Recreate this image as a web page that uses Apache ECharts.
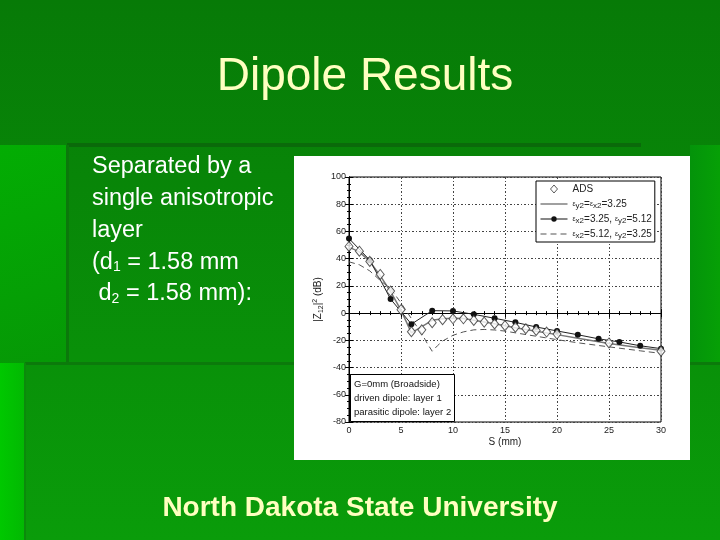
<!DOCTYPE html>
<html><head><meta charset="utf-8">
<script src="https://cdn.jsdelivr.net/npm/echarts@6/dist/echarts.min.js"></script>
<style>html,body{margin:0;padding:0;background:#0a8a0a;}#c{width:720px;height:540px;}</style>
</head><body><div id="c"></div>
<script>
// ---- data ----
const xTicks = [0, 5, 10, 15, 20, 25, 30];
const yTicks = [-80, -60, -40, -20, 0, 20, 40, 60, 80, 100];
const seriesNames = ['ADS', 'eq', 'dot', 'dash'];
const adsS = [0,1,2,3,4,5,6,7,8,9,10,11,12,13,14,15,16,17,18,19,20,25,30];
const adsV = [49,45.5,38,28.4,16.2,2.5,-13.7,-12.3,-7,-4.8,-4.2,-4.2,-5.4,-6.6,-8,-9.2,-10.4,-11.5,-12.7,-13.9,-15.4,-21.9,-28];
const eqS = [0,1,2,3,4,5,6,7,8,9,10,11,12,14,16,18,20,22,25,28,30];
const eqV = [48.5,45,38,27.5,15.8,2.2,-14.5,-10,-5.3,-4.2,-3.8,-4,-5.2,-7.8,-10.8,-13.4,-15.8,-18.5,-22.4,-25.5,-27.3];
const dotS = [0,2,4,6,8,10,12,14,16,18,20,22,24,26,28,30];
const dotV = [54.8,38.9,10.3,-8.1,1.8,1.6,-0.9,-3.8,-6.8,-10.2,-13.1,-15.9,-18.9,-21.2,-24,-26.1];
const dashS = [0,1,2,3,4,5,6,7,7.5,8,8.5,9,10,11,12,13,14,15,16,18,20,22,25,28,30];
const dashV = [37.7,35.5,31,24,18,7.5,-4,-15,-22,-28,-24,-20.5,-16.3,-13.8,-12.3,-12,-12.4,-13.2,-14.5,-17,-19.5,-21.8,-24.8,-27.7,-29.6];
const legendText = {
  ADS: 'ADS',
  eq: '{e|ε}{s|y2}={e|ε}{s|x2}=3.25',
  dot: '{e|ε}{s|x2}=3.25, {e|ε}{s|y2}=5.12',
  dash: '{e|ε}{s|x2}=5.12, {e|ε}{s|y2}=3.25'
};
const noteText = 'G=0mm (Broadside)\ndriven dipole: layer 1\nparasitic dipole: layer 2';
const slideTitle = 'Dipole Results';
const bodyLines = ['Separated by a', 'single anisotropic', 'layer', '(d{sub|1} = 1.58 mm', ' d{sub|2} = 1.58 mm):'];
const footer = 'North Dakota State University';

const pair = (xs, ys) => xs.map((x, i) => [x, ys[i]]);
const font = 'Liberation Sans, Arial, sans-serif';
const gridDash = [2, 2, 1, 2];

// legend icons (box 27 x 9)
const BOX = 'M0,0M27,0M27,9M0,9';
const icons = {
  ADS: 'path://' + BOX + 'M13.5,0.5L17,4.5L13.5,8.5L10,4.5Z',
  eq: 'path://' + BOX + 'M0,3.8L27,3.8L27,5.2L0,5.2Z',
  dot: 'path://' + BOX + 'M0,4L27,4L27,5L0,5ZM10.8,4.5A2.7,2.7 0 1,1 16.2,4.5A2.7,2.7 0 1,1 10.8,4.5Z',
  dash: 'path://' + BOX + 'M0,4L6,4L6,5L0,5ZM10,4L16,4L16,5L10,5ZM20,4L26,4L26,5L20,5Z'
};
const iconStyle = {
  ADS: {color: '#fff', borderColor: '#333', borderWidth: 1},
  eq: {color: '#777', borderWidth: 0},
  dot: {color: '#111', borderWidth: 0},
  dash: {color: '#555', borderWidth: 0}
};

const chart = echarts.init(document.getElementById('c'), null, {renderer: 'canvas'});

const bg = [
  {type:'rect', z:-100, shape:{x:0,y:0,width:720,height:540}, style:{fill:new echarts.graphic.LinearGradient(0,0,0,1,[{offset:0,color:'#077a07'},{offset:1,color:'#0a9c0a'}])}},
  {type:'rect', z:-99, shape:{x:0,y:145,width:67,height:218}, style:{fill:new echarts.graphic.LinearGradient(0,0,1,1,[{offset:0,color:'#03ad03'},{offset:1,color:'#069806'}])}},
  {type:'rect', z:-99, shape:{x:0,y:363,width:25,height:177}, style:{fill:new echarts.graphic.LinearGradient(0,0,1,0,[{offset:0,color:'#00c800'},{offset:1,color:'#02b802'}])}},
  {type:'rect', z:-99, shape:{x:690,y:145,width:30,height:218}, style:{fill:new echarts.graphic.LinearGradient(0,0,1,0,[{offset:0,color:'#04930a'},{offset:1,color:'#06a006'}])}},
  {type:'rect', z:-98, shape:{x:67,y:143,width:574,height:4}, style:{fill:'#0a6a0a'}},
  {type:'rect', z:-98, shape:{x:66,y:145,width:3,height:218}, style:{fill:'#0b780b'}},
  {type:'rect', z:-98, shape:{x:25,y:362,width:695,height:3}, style:{fill:'#0b7a0b'}},
  {type:'rect', z:-98, shape:{x:24,y:363,width:2,height:177}, style:{fill:'#0b8a0b'}},
  {type:'rect', z:-97, shape:{x:294,y:156,width:396,height:304}, style:{fill:'#ffffff'}}
];
const texts = [
  {type:'text', z:10, x:365, y:77, style:{text:slideTitle, fill:'#ffffc0', font:'46px '+font, textAlign:'center', textVerticalAlign:'middle'}},
  {type:'text', z:10, x:360, y:508, style:{text:footer, fill:'#ffffc0', font:'bold 28px '+font, textAlign:'center', textVerticalAlign:'middle'}}
];
bodyLines.forEach((t, i) => {
  texts.push({type:'text', z:10, x:92, y:167 + i*31.7, style:{text:t, fill:'#ffffff', fontSize:23.5, fontFamily:font, textVerticalAlign:'middle',
    rich:{sub:{fontSize:14, fill:'#ffffff', fontFamily:font, verticalAlign:'bottom', padding:[8,0,0,0]}}}});
});

const axisLbl = {color:'#222', fontSize:9, fontFamily:font};
const option = {
  animation: false,
  backgroundColor: 'transparent',
  graphic: bg.concat(texts),
  title: [{
    text: noteText, left: 350, top: 374,
    backgroundColor: '#fff', borderColor: '#000', borderWidth: 1, padding: [3, 4, 3, 4],
    textStyle: {fontSize: 9.5, fontWeight: 'normal', color: '#111', fontFamily: font, lineHeight: 14}
  }],
  legend: {
    orient: 'vertical', left: 536, top: 181,
    backgroundColor: '#fff', borderColor: '#000', borderWidth: 1, padding: [2, 3, 2, 4],
    itemWidth: 27, itemHeight: 9, itemGap: 3,
    data: seriesNames.map(n => ({name: n, icon: icons[n], itemStyle: iconStyle[n]})),
    formatter: n => legendText[n],
    textStyle: {fontSize: 10, color: '#222', fontFamily: font, lineHeight: 12,
      rich: {e: {fontSize: 7, color: '#222', fontFamily: font, lineHeight: 12}, s: {fontSize: 8, color: '#222', fontFamily: font, lineHeight: 12, padding: [4, 0, 0, 0]}}}
  },
  grid: {left: 349, right: 59, top: 177, bottom: 118, show: true, borderColor: '#000', borderWidth: 1, backgroundColor: '#fff'},
  xAxis: [{
    type: 'value', min: 0, max: 30, interval: 5,
    name: 'S (mm)', nameLocation: 'middle', nameGap: 15, nameTextStyle: {color: '#222', fontSize: 10, fontFamily: font},
    axisLine: {lineStyle: {color: '#000'}}, axisTick: {inside: true, length: 4, lineStyle: {color: '#000'}},
    minorTick: {show: true, splitNumber: 5, length: 2, lineStyle: {color: '#000'}},
    axisLabel: Object.assign({margin: 4}, axisLbl),
    splitLine: {show: true, lineStyle: {color: '#444', type: gridDash, width: 1}}
  }, {
    type: 'value', min: 0, max: 30, interval: 5, position: 'top',
    axisLine: {lineStyle: {color: '#000'}}, axisTick: {inside: true, length: 4, lineStyle: {color: '#000'}},
    minorTick: {show: true, splitNumber: 5, length: 2, lineStyle: {color: '#000'}},
    axisLabel: {show: false}, splitLine: {show: false}
  }],
  yAxis: [{
    type: 'value', min: -80, max: 100, interval: 20,
    name: '|Z{sub|12}|{sup|2} (dB)', nameLocation: 'middle', nameGap: 24, nameRotate: 90,
    nameTextStyle: {color: '#222', fontSize: 10, fontFamily: font,
      rich: {sub: {fontSize: 7, color: '#222', padding: [6, 0, 0, 0]}, sup: {fontSize: 7, color: '#222', padding: [0, 0, 6, 0]}}},
    axisLine: {lineStyle: {color: '#000'}}, axisTick: {inside: true, length: 4, lineStyle: {color: '#000'}},
    minorTick: {show: true, splitNumber: 4, length: 2, lineStyle: {color: '#000'}},
    axisLabel: Object.assign({margin: 3}, axisLbl),
    splitLine: {show: true, lineStyle: {color: '#444', type: gridDash, width: 1}}
  }, {
    type: 'value', min: -80, max: 100, interval: 20, position: 'right',
    axisLine: {lineStyle: {color: '#000'}}, axisTick: {inside: true, length: 4, lineStyle: {color: '#000'}},
    minorTick: {show: true, splitNumber: 4, length: 2, lineStyle: {color: '#000'}},
    axisLabel: {show: false}, splitLine: {show: false}
  }],
  series: [
    {name: 'eq', type: 'line', data: pair(eqS, eqV), symbol: 'none', color: '#777',
     lineStyle: {color: '#777', width: 1.5}, z: 3},
    {name: 'dot', type: 'line', data: pair(dotS, dotV), symbol: 'circle', symbolSize: 6, color: '#111',
     itemStyle: {color: '#111'}, lineStyle: {color: '#222', width: 1}, z: 4},
    {name: 'dash', type: 'line', data: pair(dashS, dashV), symbol: 'none', color: '#555',
     lineStyle: {color: '#555', width: 1, type: [6, 4]}, z: 3},
    {name: 'ADS', type: 'scatter', data: pair(adsS, adsV), symbol: 'diamond', symbolSize: [8, 10],
     itemStyle: {color: '#fff', borderColor: '#333', borderWidth: 1}, z: 5}
  ]
};
chart.setOption(option);
</script></body></html>
